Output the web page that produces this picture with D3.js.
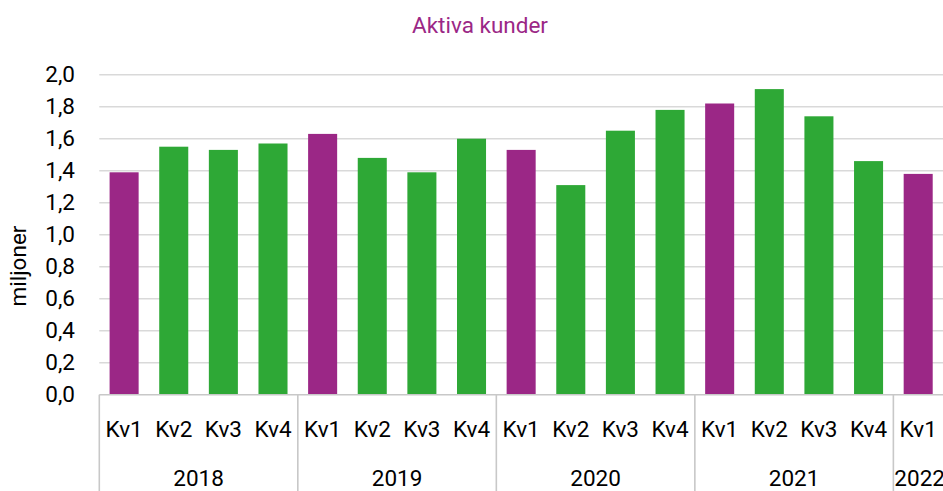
<!DOCTYPE html>
<html>
<head>
<meta charset="utf-8">
<script src="https://cdn.jsdelivr.net/npm/d3@7"></script>
<style>
  html, body { margin: 0; padding: 0; background: #fff; }
  svg { display: block; font-family: Roboto, "Noto Sans", sans-serif; }
</style>
</head>
<body>
<svg id="chart" width="943" height="491"></svg>
<script>
const years = ["2018", "2019", "2020", "2021", "2022"];
const quarters = ["Kv1","Kv2","Kv3","Kv4","Kv1","Kv2","Kv3","Kv4","Kv1","Kv2","Kv3","Kv4","Kv1","Kv2","Kv3","Kv4","Kv1"];
const quarterYears = ["2018","2018","2018","2018","2019","2019","2019","2019","2020","2020","2020","2020","2021","2021","2021","2021","2022"];
const values = [1.39, 1.55, 1.53, 1.57, 1.63, 1.48, 1.39, 1.60, 1.53, 1.31, 1.65, 1.78, 1.82, 1.91, 1.74, 1.46, 1.38];
const yTicks = [0, 0.2, 0.4, 0.6, 0.8, 1.0, 1.2, 1.4, 1.6, 1.8, 2.0];
const title = "Aktiva kunder";
const yTitle = "miljoner";

(function () {
const purple = "#9B2786", green = "#2EA836";
const svg = d3.select("#chart");
const pLeft = 99.3, pRight = 943, pTop = 74.7, pBottom = 394.7;

const ids = quarters.map((q, i) => i);
const pad = 0.415;
const x = d3.scaleBand().domain(ids).range([pLeft, pRight]).paddingInner(pad).paddingOuter(pad / 2);
const y = d3.scaleLinear().domain([0, 2.0]).range([pBottom, pTop]);

// gridlines
svg.append("g").selectAll("line").data(yTicks.filter(t => t > 0)).join("line")
  .attr("x1", pLeft).attr("x2", pRight)
  .attr("y1", d => y(d)).attr("y2", d => y(d))
  .attr("stroke", "#d9d9d9").attr("stroke-width", 1.6);

// y axis tick labels
const yAxis = d3.axisLeft(y).tickValues(yTicks).tickSize(0).tickPadding(0)
  .tickFormat(d => d3.format(".1f")(d).replace(".", ","));
const ya = svg.append("g").attr("transform", "translate(75,0)").call(yAxis);
ya.select(".domain").remove();
ya.selectAll("text").attr("font-size", 22.5).attr("fill", "#000")
  .attr("font-family", "Roboto, sans-serif");

// bars
svg.append("g").selectAll("rect").data(values).join("rect")
  .attr("x", (d, i) => x(i))
  .attr("width", x.bandwidth())
  .attr("y", d => y(d))
  .attr("height", d => y(0) - y(d))
  .attr("fill", (d, i) => quarters[i] === "Kv1" ? purple : green);

// x axis baseline
svg.append("line").attr("x1", pLeft).attr("x2", pRight).attr("y1", pBottom).attr("y2", pBottom)
  .attr("stroke", "#c8c8c8").attr("stroke-width", 1.6);

// quarter labels
const bw = x.step();
const bandStart = i => pLeft + i * bw;
svg.append("g").selectAll("text").data(quarters).join("text")
  .attr("x", (d, i) => bandStart(i) + bw / 2)
  .attr("y", 436.5)
  .attr("text-anchor", "middle")
  .attr("font-size", 22.5)
  .attr("fill", "#000")
  .text(d => d);

// year groups
const groups = years.map(yr => {
  const idx = quarterYears.map((q, i) => q === yr ? i : -1).filter(i => i >= 0);
  return { yr, start: idx[0], end: idx[idx.length - 1] + 1 };
});
svg.append("g").selectAll("line").data(groups).join("line")
  .attr("x1", d => bandStart(d.start)).attr("x2", d => bandStart(d.start))
  .attr("y1", pBottom).attr("y2", 491)
  .attr("stroke", "#c8c8c8").attr("stroke-width", 1.6);
svg.append("g").selectAll("text").data(groups).join("text")
  .attr("x", d => d.end - d.start === 1 ? bandStart(d.start) + 1 : (bandStart(d.start) + bandStart(d.end)) / 2)
  .attr("y", 486)
  .attr("text-anchor", d => d.end - d.start === 1 ? "start" : "middle")
  .attr("font-size", 22.5)
  .attr("fill", "#000")
  .text(d => d.yr);

// title
svg.append("text").attr("x", 480).attr("y", 33).attr("text-anchor", "middle")
  .attr("font-size", 22.5).attr("fill", purple).text(title);

// y title
svg.append("text").attr("transform", "translate(26,266) rotate(-90)")
  .attr("text-anchor", "middle").attr("font-size", 22.5).attr("fill", "#000").text(yTitle);
})();
</script>
</body>
</html>
